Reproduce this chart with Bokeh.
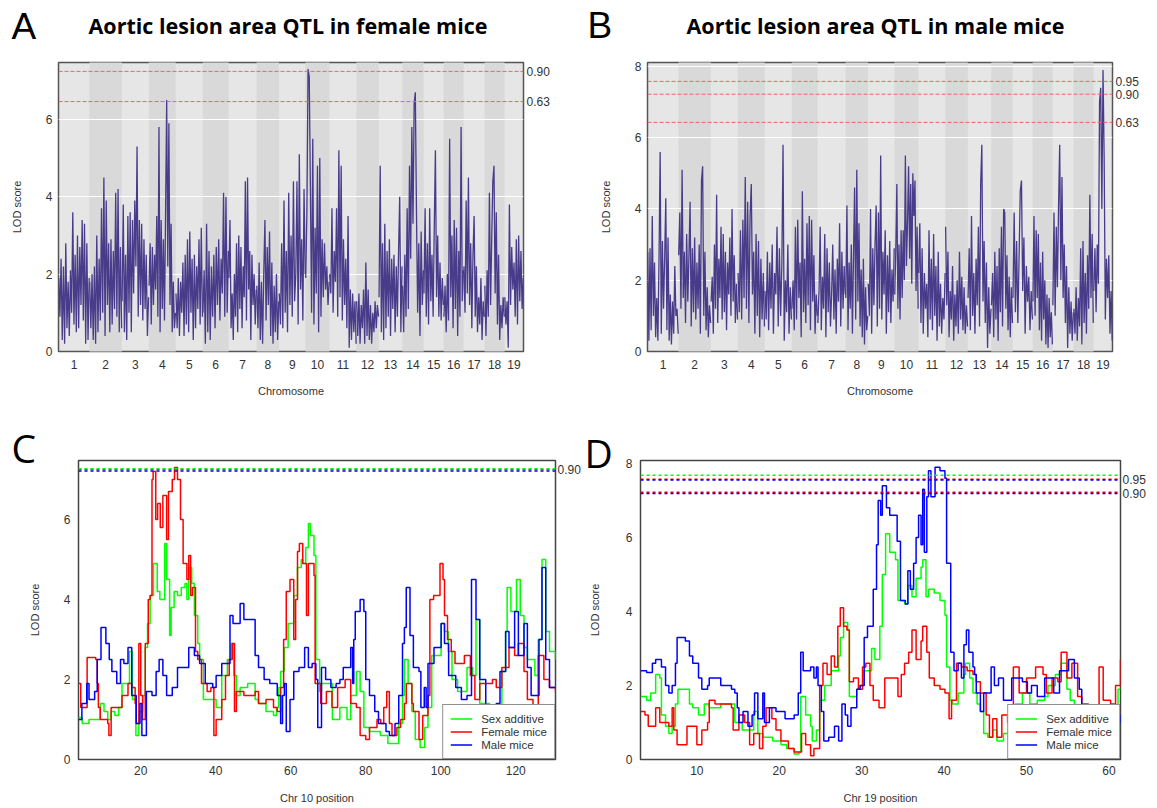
import numpy as np
from bokeh.plotting import figure
from bokeh.models import Range1d, FixedTicker, Span, Legend, LegendItem, LinearAxis, Title
from bokeh.core.properties import value
from bokeh.layouts import column, row
from bokeh.embed import file_html
from bokeh.resources import INLINE

# ---------------- data ----------------
chrom_names = [str(i) for i in range(1, 20)]
chrom_len = [124, 130, 108, 108, 108, 104, 112, 90, 106, 96, 108, 90, 94, 86, 80, 80, 84, 80, 76]

female_lod = [
    [1.9,0.9,2.4,0.3,2.2,0.2,2.8,0.6,1.8,0.4,2.1,1.0,3.6,0.7,2.5,0.5,3.0,0.6,2.7,1.2,3.4,0.8,3.3,0.2,2.8,0.3,1.9],
    [1.8,0.6,2.0,0.3,2.2,0.2,3.0,0.5,2.4,0.8,3.7,1.0,4.5,0.4,3.9,1.2,2.8,0.5,2.9,0.7,2.6,1.1,4.1,0.9,4.2,0.5,2.7,0.6],
    [1.3,3.8,0.5,2.5,0.3,3.5,1.0,3.6,0.5,3.4,1.5,3.9,2.2,5.3,0.9,3.4,1.2,3.3,0.8,2.9,1.1,2.5,0.4,1.4],
    [1.7,2.8,0.7,2.7,1.2,2.5,1.6,3.5,0.9,5.8,0.5,3.4,1.1,2.9,0.8,3.6,6.5,2.2,5.9,1.2,3.3,0.5,1.8,0.6,1.0],
    [1.5,0.6,1.9,0.4,1.8,1.0,2.3,0.4,2.5,0.7,2.9,0.5,3.1,1.0,2.4,0.3,2.5,0.6,2.2,1.1,2.9,0.7,3.2,0.9],
    [1.0,2.1,0.2,3.3,0.5,2.6,0.3,2.2,0.9,2.5,0.6,2.7,1.2,2.9,0.8,2.4,1.5,4.1,0.9,4.0,1.0,2.6],
    [1.9,3.4,0.6,1.5,0.3,2.0,0.9,2.8,0.5,3.0,1.1,2.7,0.6,2.2,1.4,4.4,0.8,4.5,1.6,2.6,0.3,2.5,1.2,2.0,0.7,1.6],
    [1.7,0.6,2.3,0.3,1.8,0.2,2.0,3.4,0.8,2.7,1.2,3.1,0.4,2.3,0.2,1.7,0.5,2.0,0.3,1.3],
    [1.5,0.7,2.8,0.6,3.9,1.0,2.6,0.5,4.1,1.2,3.0,0.9,4.4,1.3,2.0,4.4,0.7,5.1,1.6,2.9,0.8,4.2,2.0],
    [1.9,3.6,7.3,7.1,4.2,1.0,5.5,0.7,3.2,1.5,4.8,0.5,5.0,0.9,2.9,1.4,2.8,1.6,2.2,1.2,1.8],
    [2.0,1.5,3.7,1.0,2.6,1.8,3.7,0.9,5.2,1.4,4.8,0.8,2.9,1.2,2.4,0.6,3.5,0.1,1.6,0.3,1.5,0.5,1.3,0.2],
    [1.3,0.4,1.5,0.2,1.2,0.6,1.6,0.2,2.3,0.4,1.6,0.3,1.2,0.2,1.0,0.5,1.3,0.6,1.2,0.9],
    [1.4,4.8,0.5,2.8,0.3,3.3,0.6,2.6,0.9,2.9,0.4,2.4,1.1,2.5,0.5,2.2,0.9,2.6,4.0,0.5,2.2],
    [1.7,0.5,2.5,0.9,3.7,1.1,4.8,2.4,5.8,3.3,6.4,6.7,3.6,1.0,2.8,0.4,3.1,1.2,2.1],
    [1.5,3.7,0.9,2.8,0.7,3.7,1.3,2.5,0.9,3.2,5.2,1.4,3.0,0.9,2.3,0.8,1.9,1.2],
    [0.9,1.7,0.5,2.0,0.8,5.5,1.4,3.0,0.6,3.4,1.1,3.2,0.4,2.6,0.9,5.8,1.3,2.1],
    [2.2,1.0,3.9,1.5,4.5,1.2,2.8,0.6,2.5,3.5,0.9,2.2,0.5,1.4,0.7,1.9,0.3,1.3,0.9],
    [1.7,0.4,2.1,0.9,4.1,1.2,2.9,4.4,4.8,1.5,3.6,0.7,2.5,0.3,1.2,0.6,1.4,0.9],
    [1.4,0.7,1.3,0.1,3.8,1.2,2.7,1.6,2.3,0.9,2.9,0.7,3.0,1.3,2.6,1.1,1.9],
]

male_lod = [
    [2.8,0.3,2.9,0.6,3.8,1.0,2.5,0.4,1.5,0.3,2.6,5.6,0.5,3.1,1.2,2.6,4.3,0.6,3.2,0.3,1.6,0.2,1.4,0.5,2.4,1.0,1.2,0.5],
    [2.7,3.9,1.2,5.1,1.5,2.8,0.8,3.3,1.4,2.7,4.2,0.7,2.9,1.1,3.2,0.9,2.5,1.2,3.0,0.5,4.8,5.2,1.0,2.8,0.6,1.8,0.4,1.3,0.8],
    [1.4,2.1,0.5,3.0,1.2,4.4,0.8,2.6,1.5,3.5,0.9,3.3,1.1,2.8,0.6,2.5,1.6,3.2,1.0,4.0,1.4,2.7,0.8,1.9,0.9],
    [2.2,1.1,3.4,0.9,3.7,1.5,4.9,1.2,4.2,0.8,3.8,4.7,1.6,2.8,0.5,3.3,1.0,3.1,0.4,2.6,0.9,2.2,0.7],
    [1.7,0.9,2.8,0.6,2.5,1.2,3.0,0.5,2.2,1.6,3.5,0.7,2.9,1.0,2.4,5.8,0.3,2.0,1.1,3.0,0.5,1.8,0.9],
    [1.2,2.0,0.6,3.5,0.9,3.7,1.5,2.5,0.4,4.5,1.1,2.6,0.8,3.6,1.3,3.8,0.6,3.7,1.4,2.7,0.5,1.6,1.0],
    [0.8,1.7,3.5,0.6,2.1,1.2,3.3,0.4,2.9,1.1,2.5,0.7,1.6,3.0,0.9,2.3,0.5,2.6,1.4,3.6,0.7,2.8,1.2,2.4,1.6],
    [1.5,4.1,0.6,2.5,1.2,3.0,0.5,2.7,4.6,0.9,5.1,1.4,3.6,0.7,2.3,0.4,2.6,0.2,1.8,0.6,1.0],
    [1.9,1.0,4.0,0.5,2.9,1.3,3.0,4.1,0.7,3.9,1.2,5.5,0.9,2.8,1.6,3.4,0.5,2.7,1.1,3.1,0.8,2.3,1.4,2.9],
    [1.6,2.8,4.7,1.2,3.0,0.9,3.4,1.5,3.4,2.0,5.5,2.4,3.6,5.2,2.6,4.7,1.9,5.0,3.8,4.8,1.7,3.5,1.2],
    [2.2,3.6,0.8,2.9,0.5,2.2,1.2,1.9,0.4,3.4,0.9,2.6,0.6,3.3,1.0,2.4,0.3,2.8,0.7,1.9,0.5,1.5,0.9,2.2],
    [3.5,1.3,2.8,0.4,1.7,0.9,2.4,0.3,1.6,0.7,2.0,0.5,2.8,0.9,2.1,0.6,1.8,0.5,1.3,0.7],
    [1.5,2.9,0.6,3.8,1.0,2.2,0.5,2.6,1.3,3.5,0.7,4.7,5.8,1.4,3.1,0.8,2.5,0.1,1.8,0.5,1.2],
    [1.3,2.2,0.4,2.8,0.9,2.4,0.3,2.9,1.1,3.5,0.7,4.0,3.9,1.2,2.7,0.6,2.1,0.4,1.8,0.8],
    [1.5,3.9,1.1,3.1,0.8,2.6,4.5,4.8,1.7,3.2,0.5,2.4,1.4,2.1,0.6,1.7,0.9],
    [1.4,3.8,1.0,3.4,1.5,3.3,0.6,2.5,0.3,2.8,0.9,2.0,0.2,1.6,0.1,1.5,0.4,1.1,0.2],
    [1.3,3.9,1.0,3.5,1.8,4.1,5.8,2.0,4.9,1.5,3.0,0.8,2.4,0.1,1.8,0.5,1.4,0.3,1.1],
    [1.2,0.5,1.8,0.3,1.5,0.7,2.9,0.2,3.1,0.8,2.2,0.5,2.7,1.2,4.4,1.5,3.3,0.8],
    [1.7,2.9,1.1,3.0,1.9,7.0,7.4,4.0,7.9,5.4,0.9,2.6,1.5,2.7,0.5,1.7,0.3],
]

female_thresholds = [(7.24, "0.90"), (6.46, "0.63")]
male_thresholds = [(7.58, "0.95"), (7.22, "0.90"), (6.43, "0.63")]

# Chr 10 (panel C): (position, LOD)
chr10_additive = [(3.4,1.05),(4.4,0.9),(6.2,1.0),(8.2,1.0),(9.2,1.4),(10.2,1.2),(11.2,1.0),(12.1,1.2),(13.1,1.1),(14.1,1.3),(15.0,1.9),(17.0,2.7),(17.8,1.5),(18.7,0.6),(19.5,1.2),(20.5,1.6),(21.2,2.8),(21.8,3.4),(22.5,4.1),(23.4,4.9),(24.4,4.2),(25.1,4.0),(26.4,5.4),(26.9,4.5),(27.7,3.1),(28.1,3.8),(28.9,4.2),(29.8,4.1),(30.8,4.3),(31.8,4.4),(32.3,4.0),(32.8,4.8),(33.6,4.4),(34.3,3.6),(35.2,2.9),(35.7,2.5),(36.7,1.5),(39.2,1.5),(40.1,1.3),(41.6,2.1),(43.1,2.5),(44.1,2.9),(44.8,2.1),(45.5,1.6),(46.5,1.8),(48.5,1.9),(50.5,1.5),(51.4,1.4),(53.4,1.2),(55.4,1.1),(56.2,1.3),(56.8,1.8),(57.3,2.2),(58.3,2.8),(59.3,3.4),(60.8,4.1),(61.8,4.8),(62.8,5.0),(63.2,4.9),(64.0,5.3),(64.7,5.9),(65.2,5.6),(66.2,5.1),(66.7,2.5),(67.7,1.7),(68.2,1.9),(71.1,1.0),(73.1,1.3),(75.0,1.0),(76.0,1.6),(77.5,2.2),(78.5,1.7),(79.5,0.8),(81.0,0.7),(83.9,0.6),(85.9,0.4),(87.8,0.4),(88.8,0.9),(89.8,1.6),(90.3,2.5),(91.3,1.9),(92.3,1.2),(93.2,0.5),(94.5,0.3),(95.7,0.8),(96.6,1.3),(97.6,2.6),(100.1,3.4),(101.0,3.2),(102.0,2.7),(103.0,2.0),(104.5,1.7),(107.0,2.3),(108.5,2.1),(109.4,3.5),(110.4,1.4),(113.0,1.0),(115.0,1.2),(116.3,2.2),(117.3,3.2),(117.7,4.3),(118.7,3.7),(120.2,4.5),(121.2,3.6),(122.2,2.8),(123.1,2.5),(125.1,2.1),(126.0,3.0),(127.0,5.0),(128.0,3.2),(129.0,2.7),(130.6,2.5)]
chr10_female = [(3.4,1.9),(4.0,1.3),(5.7,2.55),(8.0,2.5),(8.4,1.9),(8.7,1.3),(9.2,1.0),(11.2,0.9),(11.5,0.6),(12.1,1.3),(15.0,1.6),(16.6,1.9),(17.6,1.8),(18.5,1.4),(18.8,0.9),(19.5,2.9),(20.0,1.6),(20.5,1.0),(21.2,2.9),(22.0,4.0),(22.5,4.1),(23.0,7.0),(23.3,7.2),(24.0,6.0),(24.5,6.4),(25.2,5.8),(25.9,6.6),(26.9,5.5),(27.4,6.7),(28.4,7.0),(29.0,7.3),(29.8,7.0),(30.6,6.0),(31.3,4.9),(32.3,4.5),(32.8,5.1),(33.3,4.1),(33.8,4.3),(34.6,2.7),(35.2,2.5),(36.2,1.9),(37.7,1.7),(38.7,1.8),(39.5,0.6),(40.1,1.0),(41.6,1.5),(42.6,2.1),(43.6,2.5),(44.4,2.9),(45.0,1.2),(45.5,1.7),(47.5,1.6),(50.5,1.7),(51.4,1.4),(53.4,1.5),(55.4,1.3),(56.4,1.2),(57.3,1.8),(58.1,3.0),(58.8,4.2),(59.8,4.5),(60.8,3.0),(61.3,4.0),(61.8,5.2),(62.3,5.4),(63.2,4.9),(64.2,3.6),(64.7,4.9),(66.2,4.6),(66.5,1.9),(68.0,1.4),(69.5,1.7),(71.0,1.3),(72.5,1.8),(74.5,2.0),(76.0,1.4),(77.5,1.3),(78.5,0.6),(80.0,0.5),(81.0,0.8),(83.0,1.0),(84.0,0.9),(84.8,1.3),(85.6,1.7),(86.3,0.9),(87.0,0.6),(88.3,0.8),(89.3,1.0),(90.3,1.4),(90.8,1.9),(92.3,1.4),(92.7,1.2),(94.2,0.5),(95.2,1.1),(96.6,1.6),(97.1,4.0),(98.1,4.1),(99.8,4.9),(100.6,4.5),(101.0,3.6),(101.8,3.0),(102.8,2.7),(103.8,2.4),(106.3,2.6),(107.9,2.1),(109.1,1.5),(110.4,1.9),(112.3,1.9),(113.8,2.0),(114.8,1.8),(116.3,2.3),(118.2,2.8),(119.7,2.6),(120.7,2.9),(122.2,2.2),(123.1,1.5),(124.6,1.2),(126.0,2.6),(127.5,2.0),(129.0,1.8),(130.6,1.7)]
chr10_male = [(3.4,1.0),(4.3,1.4),(5.6,1.9),(6.2,1.5),(7.7,1.7),(8.4,2.5),(9.4,3.3),(10.7,2.9),(11.6,2.5),(12.3,2.2),(13.6,1.9),(14.6,2.5),(15.5,2.4),(16.6,2.8),(17.6,1.6),(18.8,0.9),(19.8,1.4),(20.3,0.6),(21.5,1.7),(23.0,1.6),(24.1,2.2),(24.9,2.5),(25.9,2.1),(26.9,1.6),(28.4,1.8),(29.8,2.3),(32.8,2.8),(34.3,2.6),(35.7,2.4),(37.2,1.9),(39.2,1.8),(40.1,2.1),(41.6,2.4),(43.8,3.6),(44.6,3.4),(46.5,3.9),(47.5,3.5),(49.5,3.5),(50.5,2.6),(51.4,2.3),(52.9,2.0),(54.4,1.9),(56.4,1.6),(57.3,0.9),(57.8,1.6),(58.3,1.9),(58.8,0.7),(59.8,1.5),(60.8,2.2),(62.2,2.3),(63.7,2.8),(64.7,2.3),(65.7,2.4),(66.7,2.0),(67.2,0.8),(68.2,2.3),(69.3,2.0),(70.7,1.8),(72.1,1.9),(73.1,2.0),(74.0,2.3),(75.0,2.3),(76.0,2.8),(76.5,1.9),(76.8,3.0),(77.2,3.7),(78.0,3.7),(78.5,4.0),(79.5,3.7),(80.0,2.0),(81.0,1.6),(82.4,1.2),(83.4,0.9),(85.4,0.7),(86.3,0.6),(87.8,0.9),(88.8,1.6),(89.8,2.9),(90.3,3.3),(90.8,4.3),(91.8,3.1),(92.7,2.3),(94.2,2.2),(94.7,1.3),(95.6,1.8),(96.1,1.3),(96.6,2.4),(98.2,2.8),(100.1,3.4),(101.0,2.9),(102.1,2.1),(104.0,1.8),(105.5,1.5),(107.0,1.6),(108.2,4.5),(109.4,3.5),(110.4,2.0),(112.0,1.1),(113.4,1.2),(114.8,1.4),(115.8,2.2),(117.3,3.2),(118.2,2.8),(119.7,3.7),(120.7,2.6),(122.2,3.4),(123.1,2.3),(124.1,1.6),(126.2,3.0),(127.0,4.8),(128.0,2.5),(129.0,1.8),(130.6,1.8)]
chr10_thr = [(7.25, "#ff0000"), (7.27, "#00ff00"), (7.21, "#0000ff")]
chr10_thr_labels = [(7.24, "0.90")]

# Chr 19 (panel D): (position, LOD)
chr19_additive = [(3.2,1.7),(3.9,1.6),(4.4,1.8),(5.0,2.3),(5.5,2.2),(5.7,1.2),(6.2,0.9),(6.6,0.7),(7.0,0.9),(7.4,1.5),(7.7,1.9),(8.6,1.9),(9.1,1.5),(9.5,1.4),(10.2,1.2),(10.9,1.5),(11.5,1.4),(12.9,1.5),(14.2,1.5),(14.6,1.0),(15.5,0.8),(16.9,1.3),(17.4,0.7),(18.0,0.6),(19.2,0.5),(20.2,0.4),(20.9,0.3),(21.8,0.15),(22.4,0.2),(22.6,1.7),(23.2,1.2),(23.8,0.9),(24.0,0.5),(24.5,0.8),(24.9,1.6),(25.5,2.0),(26.3,2.4),(26.7,2.4),(27.2,2.8),(27.4,3.3),(27.8,3.7),(28.3,3.5),(28.5,1.7),(29.4,1.9),(29.8,2.0),(30.3,2.4),(31.2,3.0),(31.6,2.7),(32.2,3.6),(32.5,5.0),(32.9,6.1),(33.4,5.6),(34.1,5.4),(34.4,4.3),(35.2,4.2),(35.6,4.7),(36.1,4.4),(36.6,4.9),(37.2,5.2),(37.4,5.4),(37.8,4.4),(38.1,4.6),(38.8,4.5),(39.5,4.3),(40.1,3.9),(40.3,2.5),(40.7,1.6),(41.0,1.5),(41.7,1.8),(42.4,2.3),(42.6,2.6),(43.1,2.2),(43.5,1.8),(44.0,1.5),(44.4,1.3),(44.8,0.7),(45.3,0.6),(45.9,0.8),(46.4,0.5),(47.2,0.7),(47.9,0.4),(48.6,1.5),(49.5,1.8),(50.4,1.5),(51.3,1.6),(52.2,1.7),(52.6,2.0),(53.5,2.3),(54.2,2.6),(54.9,1.9),(55.3,1.6),(55.8,1.2),(57.5,1.0),(59.5,1.1),(60.6,1.3),(61.1,1.9),(61.4,1.9)]
chr19_female = [(3.2,1.3),(3.7,1.2),(4.1,0.9),(5.0,1.4),(5.5,1.0),(6.2,1.0),(6.6,0.9),(7.0,1.4),(7.2,0.8),(7.6,0.4),(8.6,0.4),(8.8,0.9),(9.7,0.9),(10.0,0.4),(10.6,0.8),(11.3,1.0),(11.5,1.6),(12.2,1.5),(14.2,1.4),(14.4,0.8),(15.1,1.2),(15.8,1.0),(16.4,0.4),(16.9,0.7),(17.6,0.3),(18.0,0.9),(18.4,1.4),(19.1,1.1),(19.6,0.8),(20.2,0.5),(21.1,0.3),(21.8,0.2),(22.5,0.2),(22.7,0.7),(23.2,0.4),(23.8,0.1),(24.2,0.3),(24.9,2.0),(25.3,2.6),(25.8,2.3),(26.3,2.8),(26.7,2.5),(27.1,3.6),(27.4,4.1),(27.8,3.6),(28.2,3.5),(28.5,2.1),(29.0,2.2),(29.6,1.9),(30.1,2.5),(30.5,2.6),(31.0,2.0),(31.4,1.6),(32.1,1.4),(32.8,2.2),(33.9,2.2),(34.4,1.7),(34.8,2.3),(35.2,2.6),(35.7,2.9),(36.1,3.5),(36.6,2.7),(37.2,3.2),(37.4,3.6),(37.9,2.9),(38.2,2.2),(38.8,2.0),(39.5,1.9),(40.1,1.8),(40.6,1.1),(40.9,1.6),(41.5,2.6),(42.1,2.5),(42.8,2.4),(43.5,2.3),(43.9,2.1),(44.4,1.8),(45.1,1.2),(45.5,0.6),(45.9,1.1),(46.4,0.6),(47.0,1.2),(47.7,1.0),(48.2,1.4),(48.4,2.5),(49.1,1.8),(50.0,2.2),(51.1,2.5),(52.0,2.3),(52.4,1.8),(53.1,2.2),(53.8,2.1),(54.2,2.9),(54.9,2.2),(55.5,2.6),(56.2,1.7),(56.7,1.5),(57.5,1.4),(58.8,2.5),(59.3,1.6),(60.2,1.5),(60.8,2.0),(61.4,2.7)]
chr19_male = [(3.2,2.4),(3.9,2.35),(4.6,2.6),(5.0,2.7),(5.7,2.5),(6.2,2.0),(6.6,1.8),(7.0,2.0),(7.4,2.6),(7.6,3.3),(8.6,3.2),(9.1,2.8),(9.5,2.6),(10.2,2.2),(10.6,1.9),(11.3,2.0),(11.5,2.2),(12.9,2.0),(14.2,1.9),(14.6,1.8),(14.9,1.4),(15.1,1.0),(15.6,1.3),(16.2,0.9),(16.7,1.2),(17.0,1.8),(17.4,1.1),(18.0,1.8),(18.2,1.0),(18.8,1.4),(19.6,1.3),(20.7,1.1),(21.8,1.2),(22.3,1.8),(22.6,2.9),(22.9,2.4),(23.8,2.5),(24.2,2.2),(24.5,2.5),(24.7,2.0),(25.1,1.3),(25.4,0.5),(26.0,0.6),(26.7,0.9),(27.2,0.5),(27.6,1.5),(28.0,1.2),(28.3,0.9),(28.7,1.4),(29.4,1.9),(29.8,2.0),(30.3,3.3),(30.7,3.6),(31.4,4.6),(31.8,5.8),(32.0,7.0),(32.3,6.6),(32.5,7.4),(33.0,6.8),(33.4,6.6),(33.9,6.6),(34.3,5.9),(34.7,4.3),(35.3,4.2),(35.6,5.1),(35.9,4.6),(36.3,5.3),(36.6,6.0),(36.9,6.6),(37.2,5.8),(37.4,7.3),(37.6,5.6),(37.9,7.1),(38.1,7.8),(38.4,7.1),(38.9,7.9),(39.5,7.8),(40.1,7.6),(40.3,5.3),(40.8,2.9),(41.2,2.4),(41.7,2.6),(42.1,2.2),(42.4,3.1),(42.7,3.5),(43.0,2.9),(43.5,2.5),(43.7,2.3),(43.9,1.8),(44.4,1.3),(44.8,1.8),(45.7,2.5),(46.1,2.0),(46.6,2.2),(47.2,1.6),(48.2,2.2),(49.5,2.1),(50.1,1.8),(50.6,2.0),(51.3,1.7),(52.2,2.2),(52.6,2.2),(53.3,1.8),(54.0,2.4),(55.1,2.7),(55.8,2.2),(56.4,1.9),(56.7,1.3),(58.0,1.1),(60.0,1.0),(61.4,1.2)]
chr19_thr = [(7.68, "#00ff00"), (7.57, "#ff0000"), (7.55, "#0000ff"), (7.22, "#ff0000"), (7.19, "#0000ff")]
chr19_thr_labels = [(7.57, "0.95"), (7.2, "0.90")]

series_names = ["Sex additive", "Female mice", "Male mice"]
series_colors = ["#00ff00", "#ff0000", "#0000ff"]

# ---------------- helpers ----------------
TICK_FONT = "Liberation Sans"
TXT = "#333333"


def style_axis(ax, tick_std, lab_std):
    ax.axis_line_color = None
    ax.major_tick_line_color = None
    ax.minor_tick_line_color = None
    ax.major_tick_out = 0
    ax.major_tick_in = 0
    ax.major_label_text_font = TICK_FONT
    ax.major_label_text_font_size = "12px"
    ax.major_label_text_color = TXT
    ax.axis_label_text_font = TICK_FONT
    ax.axis_label_text_font_size = "11px"
    ax.axis_label_text_font_style = "normal"
    ax.axis_label_text_color = TXT
    ax.major_label_standoff = tick_std
    ax.axis_label_standoff = lab_std


def add_threshold_axis(p, thresholds, standoff):
    ax = LinearAxis(ticker=FixedTicker(ticks=[v for v, _ in thresholds]),
                    major_label_overrides={v: lab for v, lab in thresholds})
    style_axis(ax, standoff, 0)
    p.add_layout(ax, "right")


def manhattan(vals, thresholds, ymax, yticks, width, bl, br):
    total = sum(chrom_len)
    p = figure(width=width, height=346, x_range=Range1d(0, total), y_range=Range1d(0, ymax),
               output_backend="svg", toolbar_location=None,
               min_border_left=bl, min_border_right=br, min_border_top=8, min_border_bottom=49)
    p.background_fill_color = "#e6e6e6"
    p.border_fill_color = "white"
    p.outline_line_color = "#555555"
    p.outline_line_width = 1.5
    starts = np.cumsum([0] + chrom_len[:-1])
    ends = starts + np.array(chrom_len)
    p.quad(left=starts[1::2], right=ends[1::2], bottom=-1, top=ymax + 1,
           fill_color="#d9d9d9", line_color=None, level="image")
    xs, ys = [], []
    for s, L, v in zip(starts, chrom_len, vals):
        xs.append(list(np.linspace(s + 1, s + L - 1, len(v))))
        ys.append(v)
    p.multi_line(xs, ys, line_color="#473b8a", line_width=1.3)
    centers = [int(s + L // 2) for s, L in zip(starts, chrom_len)]
    p.xaxis[0].ticker = FixedTicker(ticks=centers)
    p.xaxis[0].major_label_overrides = {c: n for c, n in zip(centers, chrom_names)}
    p.yaxis[0].ticker = FixedTicker(ticks=yticks)
    p.xgrid.visible = False
    p.ygrid.ticker = FixedTicker(ticks=[t for t in yticks if t > 0])
    p.ygrid.grid_line_color = "white"
    p.ygrid.grid_line_width = 1
    p.xaxis[0].axis_label = "Chromosome"
    p.yaxis[0].axis_label = "LOD score"
    style_axis(p.xaxis[0], 8, 13)
    style_axis(p.yaxis[0], 6, 20)
    for v, _ in thresholds:
        p.add_layout(Span(location=v, dimension="width", line_color="#f26262",
                          line_dash="4 2", line_width=1))
    add_threshold_axis(p, thresholds, 3)
    return p


def region(series, thr_lines, thr_labels, xr, ymax, xticks, yticks, xlabel, letter,
           width, bl, br, letter_offset, letter_standoff, label_std):
    p = figure(width=width, height=408, x_range=Range1d(*xr), y_range=Range1d(0, ymax),
               output_backend="svg", toolbar_location=None,
               min_border_left=bl, min_border_right=br, min_border_top=60, min_border_bottom=49)
    p.background_fill_color = "white"
    p.outline_line_color = "#444444"
    p.outline_line_width = 1.5
    p.grid.visible = False
    rends = []
    for data, col in zip(series, series_colors):
        x = [a for a, b in data]
        y = [b for a, b in data]
        rends.append(p.step(x, y, mode="after", line_color=col, line_width=1.5))
    for loc, col in thr_lines:
        p.add_layout(Span(location=loc, dimension="width", line_color=col,
                          line_dash="3 3", line_width=1.5))
    p.xaxis[0].ticker = FixedTicker(ticks=xticks)
    p.yaxis[0].ticker = FixedTicker(ticks=yticks)
    p.xaxis[0].axis_label = xlabel
    p.yaxis[0].axis_label = "LOD score"
    style_axis(p.xaxis[0], 6, 14)
    style_axis(p.yaxis[0], 8, label_std)
    add_threshold_axis(p, thr_labels, 2)
    leg = Legend(items=[LegendItem(label=n, renderers=[r]) for n, r in zip(series_names, rends)],
                 location="bottom_right", margin=0, padding=7, spacing=0,
                 glyph_width=22, glyph_height=13, label_height=13, label_standoff=9,
                 label_text_font=TICK_FONT, label_text_font_size="11.5px", label_text_color=TXT,
                 border_line_color="#222222", border_line_width=1,
                 background_fill_color="white", background_fill_alpha=1)
    p.add_layout(leg)
    t = Title(text=letter, align="left", offset=letter_offset, vertical_align="bottom",
              text_font="Open Sans", text_font_size="39px", text_font_style="normal",
              text_color="black")
    try:
        t.standoff = letter_standoff
    except Exception:
        t.standoff = 0
    p.title = t
    return p


# header with panel letters and titles of A and B
hdr = figure(width=1157, height=54, x_range=Range1d(0, 1157), y_range=Range1d(54, 0),
             output_backend="svg", toolbar_location=None, x_axis_type=None, y_axis_type=None,
             min_border=0, title=None)
hdr.outline_line_color = None
hdr.grid.visible = False
hdr.text(x=[11, 587], y=[26, 25], text=["A", "B"], text_font=value("Liberation Sans"),
         text_font_size="37px", text_align="left", text_baseline="middle", text_color="black")
hdr.text(x=[88, 686], y=[25, 25],
         text=["Aortic lesion area QTL in female mice", "Aortic lesion area QTL in male mice"],
         text_font=value("Open Sans"), text_font_style="bold", text_font_size="21.5px",
         text_align="left", text_baseline="middle", text_color="black")

pA = manhattan(female_lod, female_thresholds, 7.47, [0, 2, 4, 6], 580, 58, 57)
pB = manhattan(male_lod, male_thresholds, 8.11, [0, 2, 4, 6, 8], 577, 67, 45)

pC = region([chr10_additive, chr10_female, chr10_male], chr10_thr, chr10_thr_labels,
            (3.4, 130.6), 7.475, [20, 40, 60, 80, 100, 120], [0, 2, 4, 6],
            "Chr 10 position", "C", 583, 78, 26, -67, -27, 20)
pD = region([chr19_additive, chr19_female, chr19_male], chr19_thr, chr19_thr_labels,
            (3.16, 61.4), 8.08, [10, 20, 30, 40, 50, 60], [0, 2, 4, 6, 8],
            "Chr 19 position", "D", 574, 57, 37, -56, -37, 22)

layout = column(hdr, row(pA, pB), row(pC, pD))
open("out.html", "w").write(file_html(layout, INLINE))
